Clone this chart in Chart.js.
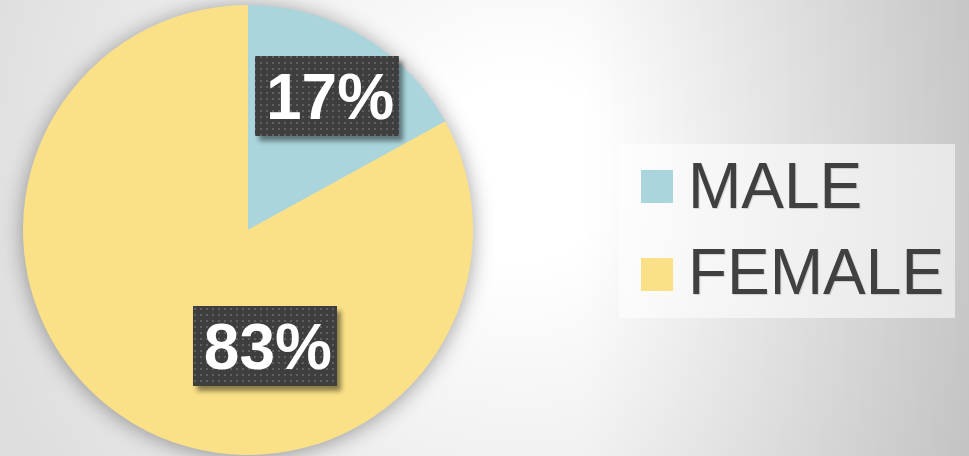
<!DOCTYPE html>
<html>
<head>
<meta charset="utf-8">
<script src="https://cdn.jsdelivr.net/npm/chart.js@4"></script>
<style>
  html, body { margin: 0; padding: 0; }
  body {
    width: 969px; height: 456px; overflow: hidden; position: relative;
    background:
      linear-gradient(to right, rgba(0,0,0,0) 60%, rgba(0,0,0,0.13) 100%),
      radial-gradient(circle at 520px 170px, #ffffff 0px, #ffffff 90px, #dedede 560px);
    font-family: "Liberation Sans", Arial, sans-serif;
  }
  #pie { position: absolute; left: 0; top: 0; }
  #legend {
    position: absolute; left: 619px; top: 144px; width: 336px; height: 174px;
    background: rgba(255,255,255,0.55);
  }
  .item-box { position: absolute; left: 22px; width: 32px; height: 33px; }
  .item-text {
    position: absolute; left: 69px; font-size: 64px; line-height: 64px;
    color: #404040; white-space: nowrap;
    text-shadow: 1px 1px 1px rgba(0,0,0,0.15);
  }
</style>
</head>
<body>
<canvas id="pie" width="969" height="456"></canvas>
<div id="legend"></div>
<script>
// data
const categories = ["MALE", "FEMALE"];
const shares = [17, 83];
const sliceColors = ["#AAD5DC", "#FAE187"];

// where each percent box sits: fraction of radius, optional angle (deg, clockwise from 3 o'clock)
const labelAnchor = [{ r: 0.69 }, { r: 0.52, a: 81.7 }];

document.addEventListener("DOMContentLoaded", () => {
  const ctx = document.getElementById("pie").getContext("2d");

  // dotted fill for label boxes
  const tile = document.createElement("canvas");
  tile.width = 6; tile.height = 6;
  const t = tile.getContext("2d");
  t.fillStyle = "#3e3e3e"; t.fillRect(0, 0, 6, 6);
  t.fillStyle = "#606060"; t.fillRect(2, 2, 2, 2);
  const dots = ctx.createPattern(tile, "repeat");

  const pieShadow = {
    id: "pieShadow",
    beforeDatasetsDraw(chart) {
      const arc = chart.getDatasetMeta(0).data[0];
      if (!arc) return;
      const c = chart.ctx;
      c.save();
      c.shadowColor = "rgba(0,0,0,0.4)";
      c.shadowBlur = 22;
      c.shadowOffsetX = 0;
      c.shadowOffsetY = 2;
      c.fillStyle = "#FAE187";
      c.beginPath();
      c.arc(arc.x, arc.y, arc.outerRadius - 1, 0, Math.PI * 2);
      c.fill();
      c.restore();
    }
  };

  const percentLabels = {
    id: "percentLabels",
    afterDatasetsDraw(chart) {
      const c = chart.ctx;
      const meta = chart.getDatasetMeta(0);
      const total = shares.reduce((a, b) => a + b, 0);
      meta.data.forEach((arc, i) => {
        const anchor = labelAnchor[i];
        const mid = anchor.a !== undefined ? anchor.a * Math.PI / 180 : (arc.startAngle + arc.endAngle) / 2;
        const cx = arc.x + Math.cos(mid) * arc.outerRadius * anchor.r;
        const cy = arc.y + Math.sin(mid) * arc.outerRadius * anchor.r;
        const text = Math.round(shares[i] / total * 100) + "%";
        c.save();
        c.font = "bold 64px 'Liberation Sans', Arial, sans-serif";
        const w = c.measureText(text).width + 16;
        const h = 80;
        c.shadowColor = "rgba(0,0,0,0.45)";
        c.shadowBlur = 5;
        c.shadowOffsetX = 4;
        c.shadowOffsetY = 5;
        c.fillStyle = dots;
        c.fillRect(Math.round(cx - w / 2), Math.round(cy - h / 2), Math.round(w), h);
        c.shadowColor = "transparent";
        c.fillStyle = "#ffffff";
        c.textAlign = "center";
        c.textBaseline = "alphabetic";
        c.fillText(text, cx + 3, cy + 23);
        c.restore();
      });
    }
  };

  new Chart(ctx, {
    type: "pie",
    data: {
      labels: categories,
      datasets: [{
        data: shares,
        backgroundColor: sliceColors,
        borderWidth: 0
      }]
    },
    options: {
      responsive: false,
      animation: false,
      layout: { padding: { left: 0, right: 473, top: 5, bottom: 1 } },
      plugins: {
        legend: { display: false },
        tooltip: { enabled: false }
      }
    },
    plugins: [pieShadow, percentLabels]
  });

  // legend
  const legend = document.getElementById("legend");
  categories.forEach((name, i) => {
    const box = document.createElement("div");
    box.className = "item-box";
    box.style.top = (26 + i * 88) + "px";
    box.style.background = sliceColors[i];
    legend.appendChild(box);
    const label = document.createElement("div");
    label.className = "item-text";
    label.style.top = (10 + i * 86) + "px";
    label.textContent = name;
    legend.appendChild(label);
  });
});
</script>
</body>
</html>
